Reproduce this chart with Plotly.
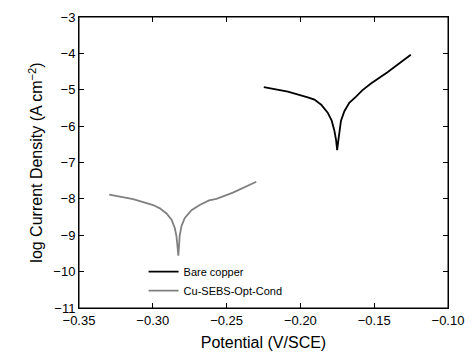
import plotly.graph_objects as go

# Bare copper polarization curve
bare_potential = [-0.2248, -0.2085, -0.1950, -0.1905, -0.1859, -0.1815, -0.1788, -0.1770, -0.1758, -0.1751,
                  -0.1743, -0.1736, -0.1725, -0.1702, -0.1669, -0.1623, -0.1579, -0.1522, -0.1410, -0.1252]
bare_logi = [-4.93, -5.05, -5.21, -5.27, -5.41, -5.63, -5.85, -6.12, -6.39, -6.66,
             -6.39, -6.12, -5.85, -5.59, -5.36, -5.19, -5.01, -4.83, -4.52, -4.04]

# Cu-SEBS-Opt-Cond polarization curve
coat_potential = [-0.3295, -0.3133, -0.2998, -0.2952, -0.2907, -0.2873, -0.2851, -0.2840, -0.2833, -0.2827,
                  -0.2822, -0.2818, -0.2806, -0.2784, -0.2738, -0.2682, -0.2619, -0.2569, -0.2457, -0.2299]
coat_logi = [-7.88, -8.01, -8.17, -8.26, -8.40, -8.57, -8.80, -9.02, -9.29, -9.56,
             -9.29, -9.02, -8.75, -8.53, -8.31, -8.17, -8.04, -8.00, -7.83, -7.53]

x_range = [-0.35, -0.10]
y_range = [-11, -3]
x_step = 0.05
y_step = 1

FONT = "Liberation Sans, Arial, sans-serif"

fig = go.Figure()
fig.add_trace(go.Scatter(x=bare_potential, y=bare_logi, mode="lines", name="Bare copper",
                         line=dict(color="black", width=1.8)))
fig.add_trace(go.Scatter(x=coat_potential, y=coat_logi, mode="lines", name="Cu-SEBS-Opt-Cond",
                         line=dict(color="#808080", width=1.8)))

axis_common = dict(showline=True, linecolor="black", mirror="ticks",
                   ticks="inside", ticklen=5, tickwidth=1, tickcolor="black",
                   showgrid=False, zeroline=False,
                   tickfont=dict(family=FONT, size=13, color="black"))

fig.update_xaxes(range=x_range, tickmode="linear", tick0=x_range[0], dtick=x_step, tickformat=".2f",
                 title=dict(text="Potential (V/SCE)", standoff=10,
                            font=dict(family=FONT, size=16, color="black")),
                 **axis_common)
fig.update_yaxes(range=y_range, tickmode="linear", tick0=y_range[0], dtick=y_step,
                 title=dict(text="log Current Density (A cm<sup>\u22122</sup>)", standoff=6,
                            font=dict(family=FONT, size=16, color="black")),
                 **axis_common)

# plot frame
fig.add_shape(type="rect", xref="paper", yref="paper", x0=0, y0=0, x1=1, y1=1,
              line=dict(color="black", width=1), layer="above")

fig.update_layout(width=474, height=359,
                  margin=dict(l=79, r=25, t=10, b=50),
                  paper_bgcolor="white", plot_bgcolor="white",
                  legend=dict(x=0.175, y=0.175, xanchor="left", yanchor="top",
                              bgcolor="rgba(0,0,0,0)",
                              font=dict(family=FONT, size=11, color="black")),
                  )

fig.write_html("out.html",
               config={"displayModeBar": False},
               post_script="document.body.style.margin='0';document.body.style.padding='0';")
